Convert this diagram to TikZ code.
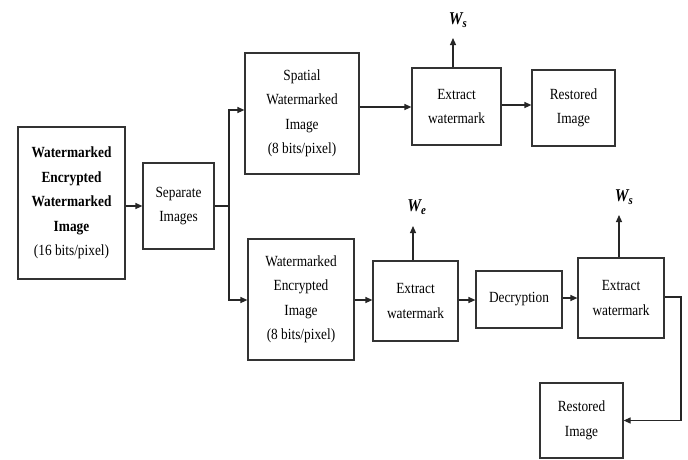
\documentclass[tikz,border=0pt]{standalone}
\usepackage{fontspec}
\setmainfont{Liberation Serif}[FakeStretch=0.86]
\usetikzlibrary{arrows.meta,positioning}

\tikzset{
  block/.style={draw=black!80, line width=1.2pt, fill=white, align=center,
    inner sep=0pt, font=\fontsize{15.5}{24.5}\selectfont},
  flow/.style={draw=black!85, line width=1.2pt, -{Triangle[length=7pt,width=6pt]}},
  wlabel/.style={font=\fontsize{18}{18}\selectfont\bfseries\itshape}
}

\begin{document}
\begin{tikzpicture}[x=1pt,y=-1pt]
  \useasboundingbox[fill=white] (0,0) rectangle (688,459);

  % Define nodes
  \node[block, minimum width=107, minimum height=152] (wewi) at (71.5,203)
    {\textbf{Watermarked}\\\textbf{Encrypted}\\\textbf{Watermarked}\\\textbf{Image}\\(16 bits/pixel)};
  \node[block, minimum width=71, minimum height=86] (sep) at (178.5,206) {Separate\\Images};
  \node[block, minimum width=114, minimum height=121] (swi) at (302,113.5)
    {Spatial\\Watermarked\\Image\\(8 bits/pixel)};
  \node[block, minimum width=89, minimum height=77] (ext1) at (456.5,106.5) {Extract\\watermark};
  \node[block, minimum width=83, minimum height=76] (res1) at (573.5,108) {Restored\\Image};
  \node[block, minimum width=106, minimum height=121] (wei) at (301,299.5)
    {Watermarked\\Encrypted\\Image\\(8 bits/pixel)};
  \node[block, minimum width=85, minimum height=80] (ext2) at (415.5,301) {Extract\\watermark};
  \node[block, minimum width=86, minimum height=57] (dec) at (519,299.5) {Decryption};
  \node[block, minimum width=86, minimum height=80] (ext3) at (621,298) {Extract\\watermark};
  \node[block, minimum width=83, minimum height=75] (res2) at (581.5,420.5) {Restored\\Image};

  % Watermark outputs
  \node[wlabel] (ws1) at (458,20) {W\textsubscript{s}};
  \node[wlabel] (we) at (417,207) {W\textsubscript{e}};
  \node[wlabel] (ws2) at (624,197) {W\textsubscript{s}};
  \coordinate (split) at (229,206);

  % Connect the nodes
  \draw[flow] (wewi.east |- sep) -- (sep.west);
  \draw[line width=1.2pt, draw=black!85] (sep.east) -- (split);
  \draw[flow] (split) |- (swi.west |- 0,110);
  \draw[flow] (split) |- (wei.west |- 0,300);
  \draw[flow] (swi.east |- 0,107) -- (ext1.west |- 0,107);
  \draw[flow] (ext1.east |- 0,105) -- (res1.west |- 0,105);
  \draw[flow] (wei.east |- 0,300) -- (ext2.west |- 0,300);
  \draw[flow] (ext2.east |- 0,300) -- (dec.west |- 0,300);
  \draw[flow] (dec.east |- 0,298) -- (ext3.west |- 0,298);
  \draw[flow] (ext3.east |- 0,297) -- (681,297) |- (res2.east);
  \draw[flow] (ext1.north -| 453,0) -- (453,38);
  \draw[flow] (ext2.north -| 413,0) -- (413,226);
  \draw[flow] (ext3.north -| 619,0) -- (619,215);

\end{tikzpicture}
\end{document}
